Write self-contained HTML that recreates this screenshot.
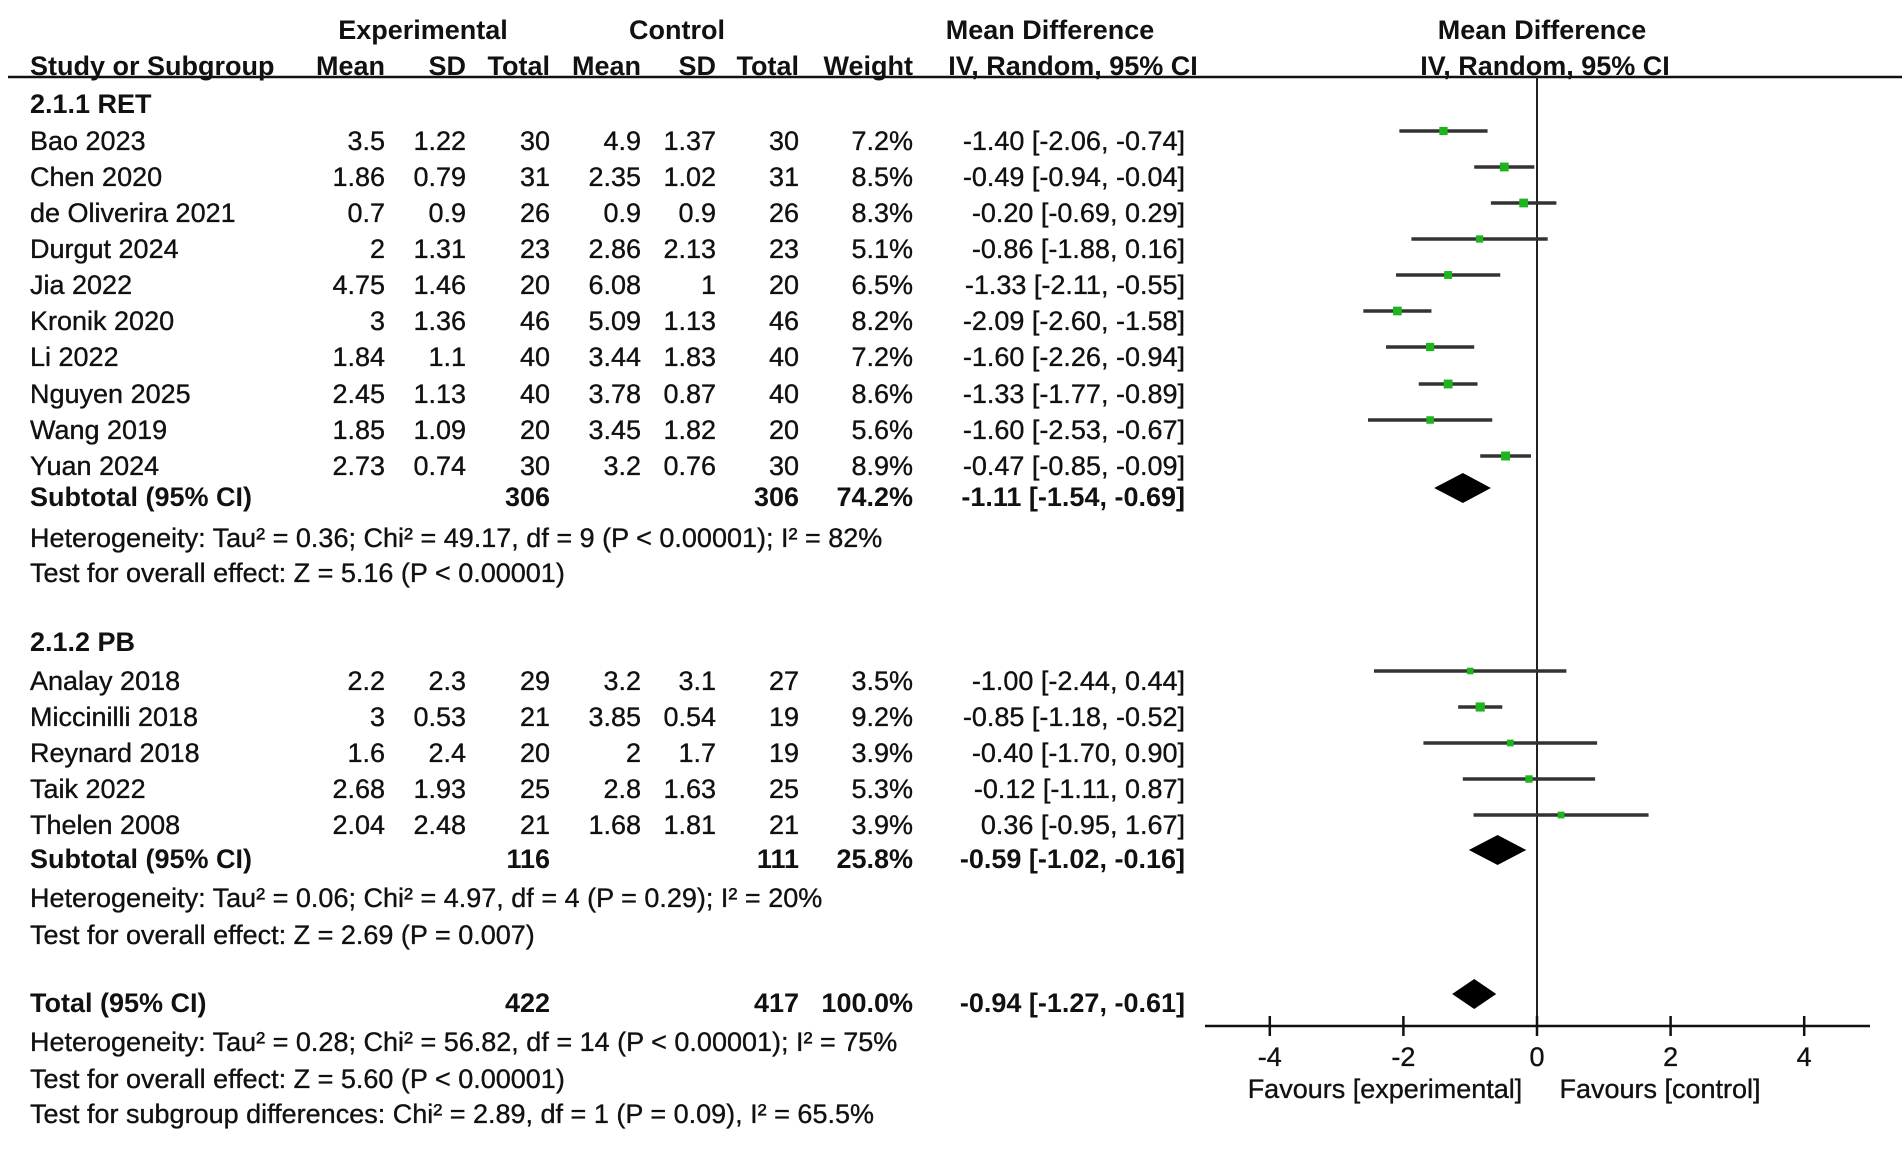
<!DOCTYPE html>
<html><head><meta charset="utf-8"><style>
html,body{margin:0;padding:0;background:#fff}
svg{display:block;font-family:"Liberation Sans",Arial,sans-serif}
</style></head><body>
<svg id="plot" width="1902" height="1153" viewBox="0 0 1902 1153" xmlns="http://www.w3.org/2000/svg"></svg>
<script>
const studies=["Bao 2023","Chen 2020","de Oliverira 2021","Durgut 2024","Jia 2022","Kronik 2020","Li 2022","Nguyen 2025","Wang 2019","Yuan 2024","Analay 2018","Miccinilli 2018","Reynard 2018","Taik 2022","Thelen 2008"];
const expMean=["3.5","1.86","0.7","2","4.75","3","1.84","2.45","1.85","2.73","2.2","3","1.6","2.68","2.04"];
const expSD=["1.22","0.79","0.9","1.31","1.46","1.36","1.1","1.13","1.09","0.74","2.3","0.53","2.4","1.93","2.48"];
const expN=["30","31","26","23","20","46","40","40","20","30","29","21","20","25","21"];
const ctlMean=["4.9","2.35","0.9","2.86","6.08","5.09","3.44","3.78","3.45","3.2","3.2","3.85","2","2.8","1.68"];
const ctlSD=["1.37","1.02","0.9","2.13","1","1.13","1.83","0.87","1.82","0.76","3.1","0.54","1.7","1.63","1.81"];
const ctlN=["30","31","26","23","20","46","40","40","20","30","27","19","19","25","21"];
const weights=[7.2,8.5,8.3,5.1,6.5,8.2,7.2,8.6,5.6,8.9,3.5,9.2,3.9,5.3,3.9];
const md=[-1.40,-0.49,-0.20,-0.86,-1.33,-2.09,-1.60,-1.33,-1.60,-0.47,-1.00,-0.85,-0.40,-0.12,0.36];
const lo=[-2.06,-0.94,-0.69,-1.88,-2.11,-2.60,-2.26,-1.77,-2.53,-0.85,-2.44,-1.18,-1.70,-1.11,-0.95];
const hi=[-0.74,-0.04,0.29,0.16,-0.55,-1.58,-0.94,-0.89,-0.67,-0.09,0.44,-0.52,0.90,0.87,1.67];
const subLabels=["Subtotal (95% CI)","Subtotal (95% CI)","Total (95% CI)"];
const subExpN=["306","116","422"];
const subCtlN=["306","111","417"];
const subWeight=["74.2%","25.8%","100.0%"];
const subMd=[-1.11,-0.59,-0.94];
const subLo=[-1.54,-1.02,-1.27];
const subHi=[-0.69,-0.16,-0.61];
const xTicks=[-4,-2,0,2,4];
const xTickLabels=["-4","-2","0","2","4"];

const svg=document.getElementById('plot');
const NS="http://www.w3.org/2000/svg";
const X0=1537, UNIT=66.8;
const xs=v=>X0+v*UNIT;
function el(tag,attrs,parent){const e=document.createElementNS(NS,tag);for(const k in attrs)e.setAttribute(k,attrs[k]);(parent||svg).appendChild(e);return e;}
function txt(x,y,s,anchor,bold,name){const t=el('text',{x:x,y:y,'font-size':27,'text-anchor':anchor||'start','dominant-baseline':'central','font-weight':bold?'bold':'normal',fill:'#111',stroke:bold?'none':'#111','stroke-width':bold?0:0.35});t.textContent=s;


return t;}
const fmt=v=>(v<0?'-':'')+Math.abs(v).toFixed(2);
const ciStr=(m,l,h)=>fmt(m)+' ['+fmt(l)+', '+fmt(h)+']';

txt(423,30,'Experimental','middle',true,'experimental-header');
txt(677,30,'Control','middle',true,'control-header');
txt(1050,30,'Mean Difference','middle',true,'mean-difference-header');
txt(1542,30,'Mean Difference','middle',true,'plot-header');
txt(30,66,'Study or Subgroup','start',true,'study-header');
const hcols=[[385,'Mean'],[466,'SD'],[550,'Total'],[641,'Mean'],[716,'SD'],[799,'Total'],[913,'Weight']];
hcols.forEach(c=>txt(c[0],66,c[1],'end',true,'column-header'));
txt(1073,66,'IV, Random, 95% CI','middle',true,'ci-header');
txt(1545,66,'IV, Random, 95% CI','middle',true,'plot-ci-header');
let r=el('line',{x1:8,x2:1902,y1:77,y2:77,stroke:'#111','stroke-width':2.5});



let v=el('line',{x1:X0,x2:X0,y1:77,y2:1026,stroke:'#222','stroke-width':2});


let ax=el('line',{x1:1205,x2:1870,y1:1026,y2:1026,stroke:'#111','stroke-width':2.5});


xTicks.forEach((t,i)=>{
  const tk=el('line',{x1:xs(t),x2:xs(t),y1:1016,y2:1036,stroke:'#111','stroke-width':2.5});
  
  
  txt(xs(t),1057,xTickLabels[i],'middle',false,'x-tick-label');
});
txt(1385,1089,'Favours [experimental]','middle',false,'favours-experimental-label');
txt(1660,1089,'Favours [control]','middle',false,'favours-control-label');

const rowY=[141,177,213,249,285,321,357,394,430,466,681,717,753,789,825];
txt(30,104,'2.1.1 RET','start',true,'subgroup-ret-title');
txt(30,642,'2.1.2 PB','start',true,'subgroup-pb-title');
studies.forEach((s,i)=>{
  const y=rowY[i];
  txt(30,y,s,'start',false,'study-name');
  txt(385,y,expMean[i],'end',false,'exp-mean');
  txt(466,y,expSD[i],'end',false,'exp-sd');
  txt(550,y,expN[i],'end',false,'exp-total');
  txt(641,y,ctlMean[i],'end',false,'ctl-mean');
  txt(716,y,ctlSD[i],'end',false,'ctl-sd');
  txt(799,y,ctlN[i],'end',false,'ctl-total');
  txt(913,y,weights[i].toFixed(1)+'%','end',false,'weight');
  txt(1185,y,ciStr(md[i],lo[i],hi[i]),'end',false,'ci-text');
  const my=y-10;
  const ln=el('line',{x1:xs(lo[i]),x2:xs(hi[i]),y1:my,y2:my,stroke:'#333','stroke-width':3.5});
  
  
  const sz=5+weights[i]*0.45;
  const sq=el('rect',{x:xs(md[i])-sz/2,y:my-sz/2,width:sz,height:sz,fill:'#1db41d'});
  
  
});
const subY=[497,859,1003];
subLabels.forEach((s,i)=>{
  const y=subY[i];
  txt(30,y,s,'start',true,'subtotal-label');
  txt(550,y,subExpN[i],'end',true,'subtotal-exp-total');
  txt(799,y,subCtlN[i],'end',true,'subtotal-ctl-total');
  txt(913,y,subWeight[i],'end',true,'subtotal-weight');
  txt(1185,y,ciStr(subMd[i],subLo[i],subHi[i]),'end',true,'subtotal-ci-text');
  const dy=y-9;
  const d=el('polygon',{points:[xs(subLo[i])+','+dy,xs(subMd[i])+','+(dy-15),xs(subHi[i])+','+dy,xs(subMd[i])+','+(dy+15)].join(' '),fill:'#000'});
  
  
});
txt(30,538,'Heterogeneity: Tau² = 0.36; Chi² = 49.17, df = 9 (P < 0.00001); I² = 82%','start',false,'heterogeneity-ret');
txt(30,573,'Test for overall effect: Z = 5.16 (P < 0.00001)','start',false,'overall-effect-ret');
txt(30,898,'Heterogeneity: Tau² = 0.06; Chi² = 4.97, df = 4 (P = 0.29); I² = 20%','start',false,'heterogeneity-pb');
txt(30,935,'Test for overall effect: Z = 2.69 (P = 0.007)','start',false,'overall-effect-pb');
txt(30,1042,'Heterogeneity: Tau² = 0.28; Chi² = 56.82, df = 14 (P < 0.00001); I² = 75%','start',false,'heterogeneity-total');
txt(30,1079,'Test for overall effect: Z = 5.60 (P < 0.00001)','start',false,'overall-effect-total');
txt(30,1114,'Test for subgroup differences: Chi² = 2.89, df = 1 (P = 0.09), I² = 65.5%','start',false,'subgroup-differences');
</script>
</body></html>
